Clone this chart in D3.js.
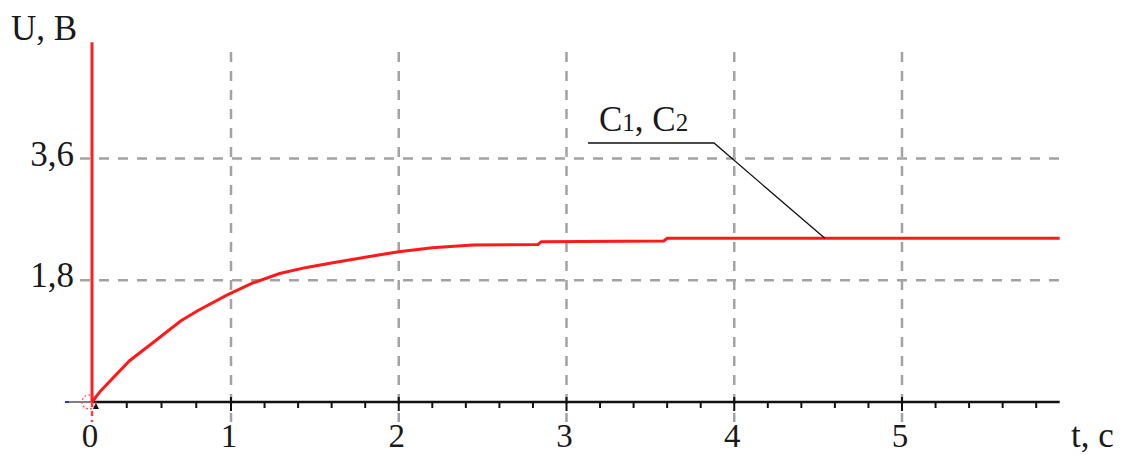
<!DOCTYPE html>
<html>
<head>
<meta charset="utf-8">
<script src="https://cdn.jsdelivr.net/npm/d3@7"></script>
<style>
    body { margin: 0; background: #fff; }
    text { font-family: "Liberation Serif", "Times New Roman", serif; fill: #1a1a1a; }
</style>
</head>
<body>
<div id="chart"></div>
<script>
// curve: t in seconds, U in volts
const timeValues = [0, 0.06, 0.27, 0.44, 0.64, 0.76, 0.97, 1.13, 1.29, 1.45, 1.59, 1.87, 2.0, 2.2, 2.44, 2.83, 2.85, 3.58, 3.6, 5.94];
const voltageValues = [0, 0.16, 0.61, 0.88, 1.20, 1.35, 1.58, 1.76, 1.90, 1.99, 2.05, 2.17, 2.22, 2.28, 2.32, 2.33, 2.37, 2.38, 2.42, 2.42];

const xTicks = [0, 1, 2, 3, 4, 5];
const xTickLabels = ["0", "1", "2", "3", "4", "5"];
const yTicks = [1.8, 3.6];
const yTickLabels = ["1,8", "3,6"];
const tMax = 5.94;
const uMax = 5.32;

function drawChart() {
    const width = 1122, height = 455;

    const svg = d3.select("#chart")
        .append("svg")
        .attr("width", width)
        .attr("height", height);

    // the time axis is not uniform between 0 and 1 in the original
    const x = d3.scaleLinear()
        .domain([0, 1, 5])
        .range([92, 231, 902]);

    const y = d3.scaleLinear()
        .domain([0, 3.6])
        .range([402, 158.5]);

    // grid
    svg.selectAll(".vgrid")
        .data(xTicks.slice(1))
        .enter().append("line")
        .attr("class", "vgrid")
        .attr("x1", d => x(d)).attr("x2", d => x(d))
        .attr("y1", 52).attr("y2", 422)
        .attr("stroke", "#a3a3a3")
        .attr("stroke-width", 2.5)
        .attr("stroke-dasharray", "10,9");

    svg.selectAll(".hgrid")
        .data(yTicks)
        .enter().append("line")
        .attr("class", "hgrid")
        .attr("x1", 80).attr("x2", x(tMax))
        .attr("y1", d => y(d)).attr("y2", d => y(d))
        .attr("stroke", "#a3a3a3")
        .attr("stroke-width", 2.5)
        .attr("stroke-dasharray", "10,9");

    // x axis line and ticks
    svg.append("line")
        .attr("x1", x(0)).attr("x2", x(tMax))
        .attr("y1", y(0)).attr("y2", y(0))
        .attr("stroke", "#111")
        .attr("stroke-width", 2.5);

    const minorTicks = [0.25, 0.5, 0.75].concat(d3.range(1, 30).map(i => 1 + i * 0.2).filter(t => t < tMax && Math.abs(t - Math.round(t)) > 0.01));
    svg.selectAll(".minor")
        .data(minorTicks)
        .enter().append("line")
        .attr("class", "minor")
        .attr("x1", d => x(d)).attr("x2", d => x(d))
        .attr("y1", y(0)).attr("y2", y(0) + 6)
        .attr("stroke", "#111")
        .attr("stroke-width", 2);

    svg.selectAll(".major")
        .data(xTicks.slice(1))
        .enter().append("line")
        .attr("class", "major")
        .attr("x1", d => x(d)).attr("x2", d => x(d))
        .attr("y1", y(0) - 5).attr("y2", y(0) + 9)
        .attr("stroke", "#111")
        .attr("stroke-width", 2);

    // little lead-in at the origin
    svg.append("line")
        .attr("x1", 66).attr("x2", x(0))
        .attr("y1", y(0)).attr("y2", y(0))
        .attr("stroke", "#555")
        .attr("stroke-width", 1.5);
    svg.append("line")
        .attr("x1", 65).attr("x2", 69)
        .attr("y1", y(0)).attr("y2", y(0))
        .attr("stroke", "#2030ff")
        .attr("stroke-width", 2);

    // red vertical axis
    svg.append("line")
        .attr("x1", x(0)).attr("x2", x(0))
        .attr("y1", y(uMax)).attr("y2", y(0))
        .attr("stroke", "#ff2020")
        .attr("stroke-width", 3);
    svg.append("line")
        .attr("x1", x(0)).attr("x2", x(0))
        .attr("y1", y(0)).attr("y2", 422)
        .attr("stroke", "#ff4040")
        .attr("stroke-width", 2.5)
        .attr("stroke-dasharray", "5,4");

    svg.append("circle")
        .attr("cx", x(0) - 3).attr("cy", y(0))
        .attr("r", 7)
        .attr("fill", "none")
        .attr("stroke", "#ff5050")
        .attr("stroke-width", 1.2)
        .attr("stroke-dasharray", "2,2");

    svg.append("path")
        .attr("d", `M${x(0) + 1},${y(0) + 7} l3,-6 l3,6 z`)
        .attr("fill", "#111");

    // curve
    const points = timeValues.map((t, i) => ({t: t, u: voltageValues[i]}));
    const line = d3.line()
        .x(d => x(d.t))
        .y(d => y(d.u));

    svg.append("path")
        .datum(points)
        .attr("d", line)
        .attr("fill", "none")
        .attr("stroke", "#ff1a1a")
        .attr("stroke-width", 3);

    // tick labels
    svg.selectAll(".xlabel")
        .data(xTicks)
        .enter().append("text")
        .attr("class", "xlabel")
        .attr("x", d => x(d) - 2)
        .attr("y", 447)
        .attr("text-anchor", "middle")
        .style("font-size", "33px")
        .text((d, i) => xTickLabels[i]);

    svg.selectAll(".ylabel")
        .data(yTicks)
        .enter().append("text")
        .attr("class", "ylabel")
        .attr("x", 74)
        .attr("y", d => y(d) + 7)
        .attr("text-anchor", "end")
        .style("font-size", "35px")
        .text((d, i) => yTickLabels[i]);

    // axis titles
    svg.append("text")
        .attr("x", 11)
        .attr("y", 40)
        .style("font-size", "35px")
        .text("U, B");

    svg.append("text")
        .attr("x", 1071)
        .attr("y", 447)
        .style("font-size", "35px")
        .text("t, c");

    // curve label with leader line
    const label = svg.append("text")
        .attr("x", 599)
        .attr("y", 131)
        .style("font-size", "35px");
    label.append("tspan").text("C");
    label.append("tspan").style("font-size", "25px").text("1");
    label.append("tspan").text(", C");
    label.append("tspan").style("font-size", "25px").text("2");

    svg.append("polyline")
        .attr("points", `588,143 714,143 ${x(4.54)},${y(2.42)}`)
        .attr("fill", "none")
        .attr("stroke", "#111")
        .attr("stroke-width", 1.3);
}

drawChart();
</script>
</body>
</html>
